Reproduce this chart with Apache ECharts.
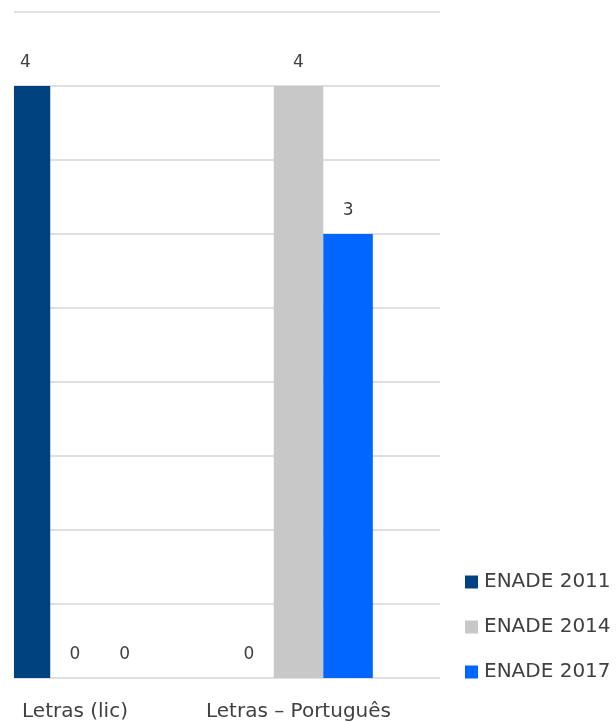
<!DOCTYPE html>
<html>
<head>
<meta charset="utf-8">
<script src="https://cdn.jsdelivr.net/npm/echarts@6/dist/echarts.min.js"></script>
<style>
  html, body { margin: 0; padding: 0; background: #fff; }
  #chart { width: 616px; height: 722px; }
</style>
</head>
<body>
<div id="chart"></div>
<script>
  // dados do gráfico
  const categories = ['Letras (lic)', 'Letras – Português']
  const seriesNames = ['ENADE 2011', 'ENADE 2014', 'ENADE 2017']
  const enade2011 = [4, 0]
  const enade2014 = [0, 4]
  const enade2017 = [0, 3]
  const colors = ['#00427f', '#c8c8c8', '#0066ff']

  const font = '"DejaVu Sans", sans-serif'
  const textColor = '#404040'

  const chart = echarts.init(document.getElementById('chart'))

  const makeSeries = (name, data, color) => ({
    name: name,
    type: 'bar',
    xAxisIndex: 1,
    yAxisIndex: 1,
    data: data,
    clip: false,
    barGap: '0%',
    barCategoryGap: '33.5%',
    itemStyle: { color: color },
    label: {
      show: true,
      position: 'top',
      distance: 15,
      color: textColor,
      fontFamily: font,
      fontSize: 17
    }
  })

  chart.setOption({
    animation: false,
    color: colors,
    grid: [
      // grade das linhas horizontais
      { left: 14, right: 176, top: 12, bottom: 44, outerBoundsMode: 'none' },
      // grade das barras: centros das categorias nas bordas (original recortado à esquerda)
      { left: 75, right: 317.5, top: 12, bottom: 44, outerBoundsMode: 'none' }
    ],
    xAxis: [{
      gridIndex: 0,
      type: 'category',
      data: categories,
      show: false
    }, {
      gridIndex: 1,
      type: 'category',
      boundaryGap: false,
      data: categories,
      axisLine: { show: false },
      axisTick: { show: false },
      axisLabel: {
        interval: 0,
        margin: 24,
        color: textColor,
        fontFamily: font,
        fontSize: 20
      }
    }],
    yAxis: [{
      gridIndex: 0,
      type: 'value',
      min: 0,
      max: 4.5,
      interval: 0.5,
      axisLabel: { show: false },
      axisLine: { show: false },
      axisTick: { show: false },
      splitLine: { lineStyle: { color: '#d4d4d4', width: 1.5 } }
    }, {
      gridIndex: 1,
      type: 'value',
      min: 0,
      max: 4.5,
      interval: 0.5,
      show: false
    }],
    legend: {
      orient: 'vertical',
      left: 460,
      top: 567,
      itemWidth: 13,
      itemHeight: 13,
      itemGap: 25,
      icon: 'rect',
      data: seriesNames,
      textStyle: {
        color: textColor,
        fontFamily: font,
        fontSize: 20,
        lineHeight: 20,
        padding: [0, 0, 0, 1]
      }
    },
    series: [
      makeSeries(seriesNames[0], enade2011, colors[0]),
      makeSeries(seriesNames[1], enade2014, colors[1]),
      makeSeries(seriesNames[2], enade2017, colors[2])
    ],
    graphic: [{
      // esconde a parte recortada da primeira barra
      type: 'rect',
      left: 0,
      top: 0,
      z: 100,
      shape: { width: 14, height: 680 },
      style: { fill: '#fff' }
    }]
  })
</script>
</body>
</html>
